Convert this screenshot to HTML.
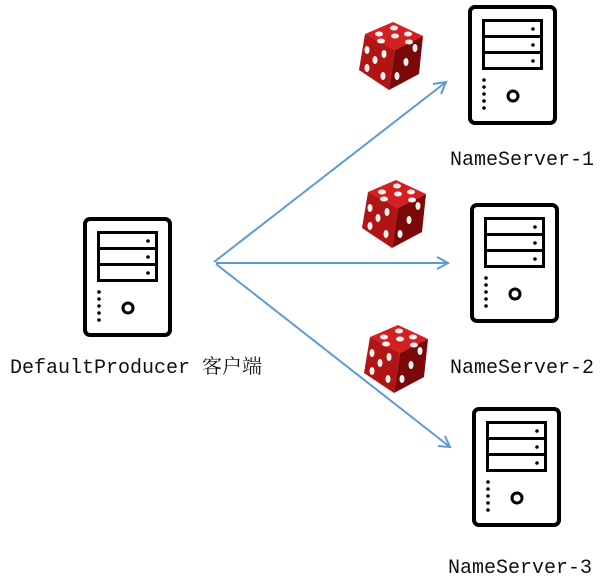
<!DOCTYPE html>
<html><head><meta charset="utf-8"><style>
html,body{margin:0;padding:0;background:#fff;width:608px;height:585px;overflow:hidden}
svg{display:block}
text{font-family:"Liberation Mono","Noto Serif CJK SC",monospace;font-size:20px;fill:#111}
</style></head><body>
<svg width="608" height="585" viewBox="0 0 608 585">
<defs>
<g id="srv">
<rect x="2" y="2" width="85" height="116" rx="5" fill="#fff" stroke="#000" stroke-width="4"/>
<rect x="15.5" y="15.5" width="58" height="16" fill="none" stroke="#000" stroke-width="3"/>
<rect x="15.5" y="31.5" width="58" height="16" fill="none" stroke="#000" stroke-width="3"/>
<rect x="15.5" y="47.5" width="58" height="16" fill="none" stroke="#000" stroke-width="3"/>
<circle cx="65" cy="24" r="1.8"/><circle cx="65" cy="40" r="1.8"/><circle cx="65" cy="56" r="1.8"/>
<circle cx="16" cy="75" r="1.8"/><circle cx="16" cy="82" r="1.8"/><circle cx="16" cy="89" r="1.8"/><circle cx="16" cy="96" r="1.8"/><circle cx="16" cy="103" r="1.8"/>
<circle cx="45" cy="91" r="5" fill="none" stroke="#000" stroke-width="3"/>
</g>
<g id="die">
<polygon points="8,12 36,0 66,14 38,28" fill="#d42020"/>
<polygon points="8,12 38,28 32,68 2,48" fill="#b01414"/>
<polygon points="38,28 66,14 62,52 32,68" fill="#7a0808"/>
<g fill="#f2f2f2">
<ellipse cx="22" cy="12" rx="4" ry="2.5"/><ellipse cx="37" cy="6" rx="4" ry="2.5"/><ellipse cx="51" cy="12" rx="4" ry="2.5"/>
<ellipse cx="24" cy="19" rx="4" ry="2.5"/><ellipse cx="38" cy="14" rx="4" ry="2.5"/><ellipse cx="52" cy="20" rx="4" ry="2.5"/>
<ellipse cx="10" cy="28" rx="2.5" ry="4"/><ellipse cx="18" cy="38" rx="2.5" ry="4"/><ellipse cx="27" cy="32" rx="2.5" ry="4"/><ellipse cx="10" cy="46" rx="2.5" ry="4"/><ellipse cx="26" cy="54" rx="2.5" ry="4"/>
<ellipse cx="58" cy="26" rx="2.5" ry="4"/><ellipse cx="49" cy="40" rx="2.5" ry="4"/><ellipse cx="40" cy="54" rx="2.5" ry="4"/>
</g>
</g>
</defs>
<use href="#srv" x="83" y="217"/>
<use href="#srv" x="468" y="5"/>
<use href="#srv" x="470" y="203"/>
<use href="#srv" x="472" y="407"/>
<use href="#die" x="357" y="22"/>
<use href="#die" x="360" y="180"/>
<use href="#die" x="362" y="325"/>
<g stroke="#5b9bd5" stroke-width="2" fill="none">
<line x1="214" y1="262" x2="446" y2="82"/>
<polyline points="433,84 446,82 441,94"/>
<line x1="216" y1="263" x2="448" y2="263"/>
<polyline points="437,257 448,263 437,269"/>
<line x1="216" y1="264" x2="450" y2="447"/>
<polyline points="438,446 450,447 445,436"/>
</g>
<text x="450" y="165">NameServer-1</text>
<text x="450" y="373">NameServer-2</text>
<text x="448" y="573">NameServer-3</text>
<text x="10" y="373">DefaultProducer 客户端</text>
</svg>
</body></html>
